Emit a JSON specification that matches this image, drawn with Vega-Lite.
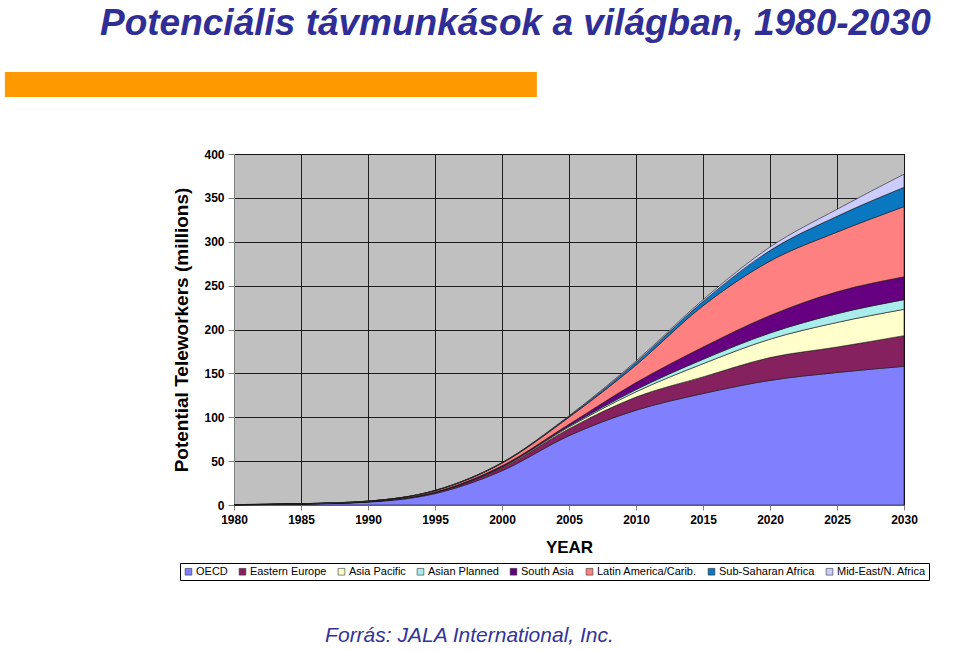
{
  "$schema": "https://vega.github.io/schema/vega-lite/v6.json",
  "width": 670,
  "height": 351,
  "autosize": {"type": "none"},
  "padding": {"left": 234, "top": 154, "right": 56, "bottom": 145},
  "background": "#ffffff",
  "title": {
    "text": "Potenciális távmunkások a világban, 1980-2030",
    "anchor": "start",
    "frame": "group",
    "font": "Liberation Sans",
    "fontSize": 37,
    "fontStyle": "italic",
    "fontWeight": "bold",
    "color": "#2E2E96",
    "dx": -134,
    "dy": -25
  },
  "config": {
    "view": {"fill": "#C0C0C0", "stroke": "#808080", "strokeWidth": 1},
    "font": "Liberation Sans"
  },
  "data": {
    "values": [
      {"year": 1980, "region": "OECD", "value": 0.3},
      {"year": 1985, "region": "OECD", "value": 1.0},
      {"year": 1990, "region": "OECD", "value": 3.3},
      {"year": 1995, "region": "OECD", "value": 13},
      {"year": 2000, "region": "OECD", "value": 39},
      {"year": 2005, "region": "OECD", "value": 79},
      {"year": 2010, "region": "OECD", "value": 108},
      {"year": 2015, "region": "OECD", "value": 127},
      {"year": 2020, "region": "OECD", "value": 142},
      {"year": 2025, "region": "OECD", "value": 151},
      {"year": 2030, "region": "OECD", "value": 158},
      {"year": 1980, "region": "Eastern Europe", "value": 0.05},
      {"year": 1985, "region": "Eastern Europe", "value": 0.15},
      {"year": 1990, "region": "Eastern Europe", "value": 0.4},
      {"year": 1995, "region": "Eastern Europe", "value": 1.2},
      {"year": 2000, "region": "Eastern Europe", "value": 3.5},
      {"year": 2005, "region": "Eastern Europe", "value": 8},
      {"year": 2010, "region": "Eastern Europe", "value": 15},
      {"year": 2015, "region": "Eastern Europe", "value": 19},
      {"year": 2020, "region": "Eastern Europe", "value": 26},
      {"year": 2025, "region": "Eastern Europe", "value": 29},
      {"year": 2030, "region": "Eastern Europe", "value": 35},
      {"year": 1980, "region": "Asia Pacific", "value": 0.02},
      {"year": 1985, "region": "Asia Pacific", "value": 0.05},
      {"year": 1990, "region": "Asia Pacific", "value": 0.1},
      {"year": 1995, "region": "Asia Pacific", "value": 0.3},
      {"year": 2000, "region": "Asia Pacific", "value": 0.8},
      {"year": 2005, "region": "Asia Pacific", "value": 2},
      {"year": 2010, "region": "Asia Pacific", "value": 6},
      {"year": 2015, "region": "Asia Pacific", "value": 15},
      {"year": 2020, "region": "Asia Pacific", "value": 21},
      {"year": 2025, "region": "Asia Pacific", "value": 28},
      {"year": 2030, "region": "Asia Pacific", "value": 30},
      {"year": 1980, "region": "Asian Planned", "value": 0.01},
      {"year": 1985, "region": "Asian Planned", "value": 0.02},
      {"year": 1990, "region": "Asian Planned", "value": 0.05},
      {"year": 1995, "region": "Asian Planned", "value": 0.1},
      {"year": 2000, "region": "Asian Planned", "value": 0.4},
      {"year": 2005, "region": "Asian Planned", "value": 1},
      {"year": 2010, "region": "Asian Planned", "value": 2.5},
      {"year": 2015, "region": "Asian Planned", "value": 5},
      {"year": 2020, "region": "Asian Planned", "value": 7},
      {"year": 2025, "region": "Asian Planned", "value": 10},
      {"year": 2030, "region": "Asian Planned", "value": 11},
      {"year": 1980, "region": "South Asia", "value": 0.02},
      {"year": 1985, "region": "South Asia", "value": 0.05},
      {"year": 1990, "region": "South Asia", "value": 0.1},
      {"year": 1995, "region": "South Asia", "value": 0.3},
      {"year": 2000, "region": "South Asia", "value": 1},
      {"year": 2005, "region": "South Asia", "value": 2},
      {"year": 2010, "region": "South Asia", "value": 8},
      {"year": 2015, "region": "South Asia", "value": 14},
      {"year": 2020, "region": "South Asia", "value": 20},
      {"year": 2025, "region": "South Asia", "value": 25},
      {"year": 2030, "region": "South Asia", "value": 26},
      {"year": 1980, "region": "Latin America/Carib.", "value": 0.05},
      {"year": 1985, "region": "Latin America/Carib.", "value": 0.15},
      {"year": 1990, "region": "Latin America/Carib.", "value": 0.4},
      {"year": 1995, "region": "Latin America/Carib.", "value": 1.5},
      {"year": 2000, "region": "Latin America/Carib.", "value": 3},
      {"year": 2005, "region": "Latin America/Carib.", "value": 8},
      {"year": 2010, "region": "Latin America/Carib.", "value": 20},
      {"year": 2015, "region": "Latin America/Carib.", "value": 47},
      {"year": 2020, "region": "Latin America/Carib.", "value": 62},
      {"year": 2025, "region": "Latin America/Carib.", "value": 68},
      {"year": 2030, "region": "Latin America/Carib.", "value": 80},
      {"year": 1980, "region": "Sub-Saharan Africa", "value": 0.01},
      {"year": 1985, "region": "Sub-Saharan Africa", "value": 0.02},
      {"year": 1990, "region": "Sub-Saharan Africa", "value": 0.05},
      {"year": 1995, "region": "Sub-Saharan Africa", "value": 0.1},
      {"year": 2000, "region": "Sub-Saharan Africa", "value": 0.4},
      {"year": 2005, "region": "Sub-Saharan Africa", "value": 1},
      {"year": 2010, "region": "Sub-Saharan Africa", "value": 3},
      {"year": 2015, "region": "Sub-Saharan Africa", "value": 5},
      {"year": 2020, "region": "Sub-Saharan Africa", "value": 12},
      {"year": 2025, "region": "Sub-Saharan Africa", "value": 18},
      {"year": 2030, "region": "Sub-Saharan Africa", "value": 22},
      {"year": 1980, "region": "Mid-East/N. Africa", "value": 0.01},
      {"year": 1985, "region": "Mid-East/N. Africa", "value": 0.02},
      {"year": 1990, "region": "Mid-East/N. Africa", "value": 0.05},
      {"year": 1995, "region": "Mid-East/N. Africa", "value": 0.1},
      {"year": 2000, "region": "Mid-East/N. Africa", "value": 0.3},
      {"year": 2005, "region": "Mid-East/N. Africa", "value": 0.7},
      {"year": 2010, "region": "Mid-East/N. Africa", "value": 1.5},
      {"year": 2015, "region": "Mid-East/N. Africa", "value": 2},
      {"year": 2020, "region": "Mid-East/N. Africa", "value": 4},
      {"year": 2025, "region": "Mid-East/N. Africa", "value": 8},
      {"year": 2030, "region": "Mid-East/N. Africa", "value": 15}
    ]
  },
  "layer": [
    {
      "transform": [
        {"calculate": "indexof(['OECD', 'Eastern Europe', 'Asia Pacific', 'Asian Planned', 'South Asia', 'Latin America/Carib.', 'Sub-Saharan Africa', 'Mid-East/N. Africa'], datum.region)", "as": "stackIndex"}
      ],
      "mark": {"type": "area", "interpolate": "monotone", "stroke": "#1a1a1a", "strokeWidth": 0.6},
      "encoding": {
        "x": {
          "field": "year",
          "type": "quantitative",
          "scale": {"domain": [1980, 2030], "nice": false, "zero": false},
          "axis": {
            "values": [1980, 1985, 1990, 1995, 2000, 2005, 2010, 2015, 2020, 2025, 2030],
            "format": "d",
            "title": "YEAR",
            "titleFont": "Liberation Sans",
            "titleFontSize": 17,
            "titleFontWeight": "bold",
            "titleColor": "#000000",
            "titlePadding": 14,
            "labelFont": "Liberation Sans",
            "labelFontSize": 12,
            "labelFontWeight": "bold",
            "labelColor": "#000000",
            "labelFlush": false,
            "labelPadding": 4,
            "tickSize": 5,
            "tickColor": "#808080",
            "domainColor": "#808080",
            "grid": true,
            "gridColor": "#000000",
            "gridOpacity": 0.85,
            "gridWidth": 1
          }
        },
        "y": {
          "field": "value",
          "type": "quantitative",
          "stack": "zero",
          "scale": {"domain": [0, 400], "nice": false},
          "axis": {
            "values": [0, 50, 100, 150, 200, 250, 300, 350, 400],
            "title": "Potential Teleworkers (millions)",
            "titleFont": "Liberation Sans",
            "titleFontSize": 19,
            "titleFontWeight": "bold",
            "titleColor": "#000000",
            "titlePadding": 12,
            "labelFont": "Liberation Sans",
            "labelFontSize": 12,
            "labelFontWeight": "bold",
            "labelColor": "#000000",
            "labelPadding": 4,
            "tickSize": 6,
            "tickColor": "#808080",
            "domainColor": "#808080",
            "grid": true,
            "gridColor": "#000000",
            "gridOpacity": 0.85,
            "gridWidth": 1
          }
        },
        "color": {
          "field": "region",
          "type": "nominal",
          "sort": ["OECD", "Eastern Europe", "Asia Pacific", "Asian Planned", "South Asia", "Latin America/Carib.", "Sub-Saharan Africa", "Mid-East/N. Africa"],
          "scale": {
            "domain": ["OECD", "Eastern Europe", "Asia Pacific", "Asian Planned", "South Asia", "Latin America/Carib.", "Sub-Saharan Africa", "Mid-East/N. Africa"],
            "range": ["#8080FF", "#862160", "#FFFFCC", "#A8ECEC", "#660080", "#FF8080", "#0A78C0", "#CCCCFF"]
          },
          "legend": {
            "orient": "none",
            "legendX": -54,
            "legendY": 409,
            "direction": "horizontal",
            "columns": 8,
            "title": null,
            "symbolType": "square",
            "symbolSize": 45,
            "symbolStrokeColor": "#333333",
            "symbolStrokeWidth": 0.6,
            "labelFont": "Liberation Sans",
            "labelFontSize": 11,
            "labelColor": "#000000",
            "labelOffset": 2,
            "columnPadding": 9,
            "padding": 3,
            "strokeColor": "#000000",
            "fillColor": "#ffffff"
          }
        },
        "order": {"field": "stackIndex", "type": "quantitative", "sort": "ascending"}
      }
    },
    {
      "data": {"values": [{"label": "bar"}]},
      "mark": {"type": "rect", "color": "#FF9900"},
      "encoding": {
        "x": {"datum": 1962.9, "type": "quantitative"},
        "x2": {"datum": 2002.6},
        "y": {"datum": 493.4, "type": "quantitative"},
        "y2": {"datum": 465.0}
      }
    },
    {
      "data": {"values": [{"label": "Forrás: JALA International, Inc."}]},
      "mark": {"type": "text", "align": "left", "baseline": "alphabetic", "font": "Liberation Sans", "fontSize": 21, "fontStyle": "italic", "color": "#333399"},
      "encoding": {
        "x": {"datum": 1986.8, "type": "quantitative"},
        "y": {"datum": -156, "type": "quantitative"},
        "text": {"field": "label"}
      }
    }
  ]
}
